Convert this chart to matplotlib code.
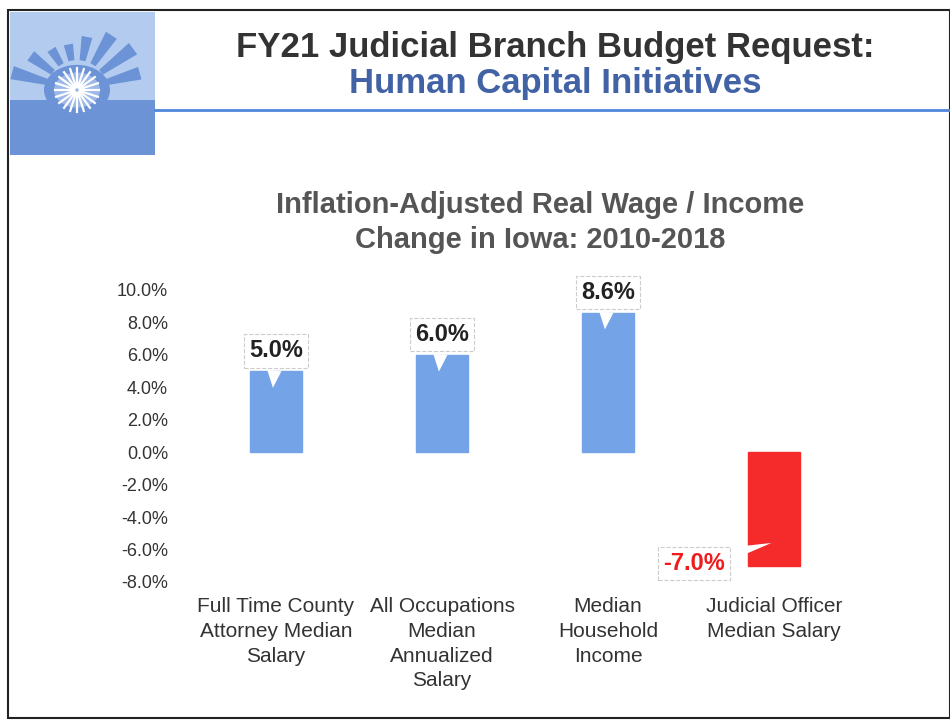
import numpy as np
import matplotlib.pyplot as plt
from matplotlib.patches import Rectangle, Polygon

plt.rcParams["font.family"] = ["Liberation Sans", "DejaVu Sans"]

categories = [
    "Full Time County\nAttorney Median\nSalary",
    "All Occupations\nMedian\nAnnualized\nSalary",
    "Median\nHousehold\nIncome",
    "Judicial Officer\nMedian Salary",
]
changes = [5.0, 6.0, 8.6, -7.0]
yticks = [10, 8, 6, 4, 2, 0, -2, -4, -6, -8]

W, H = 950, 724
fig = plt.figure(figsize=(W / 100, H / 100), dpi=100)


def fx(px):
    return px / W


def fy(py):
    return 1 - py / H


# page frame
fig.add_artist(Rectangle((fx(8), fy(718)), fx(950 - 8), fy(10) - fy(718),
                         transform=fig.transFigure, fill=False, ec="#222222", lw=1.5))

# logo block (rough sketch of the sunburst wheel)
dark = "#6c93d6"
fig.add_artist(Rectangle((fx(10), fy(155)), fx(145), fy(12) - fy(155),
                         transform=fig.transFigure, fc="#b3cbef", ec="none"))
fig.add_artist(Rectangle((fx(10), fy(155)), fx(145), fy(100) - fy(155),
                         transform=fig.transFigure, fc=dark, ec="none"))
cx, cy = 77, 90
for ang in np.linspace(15, 165, 8):
    a = np.deg2rad(ang)
    r0, r1 = 30, 58 + 12 * np.sin(a * 2.5)
    pts = []
    for da in (-0.1, 0.1):
        pts.append((fx(cx + r0 * np.cos(a + da)), fy(cy - r0 * np.sin(a + da))))
    for da in (0.1, -0.1):
        pts.append((fx(cx + r1 * np.cos(a + da)), fy(cy - r1 * np.sin(a + da))))
    fig.add_artist(Polygon(pts, closed=True, transform=fig.transFigure,
                           fc=dark, ec="none"))
fig.add_artist(plt.Circle((fx(cx), fy(cy)), fx(33), transform=fig.transFigure,
                          fc=dark, ec="none"))
fig.add_artist(plt.Circle((fx(cx), fy(cy)), fx(23), transform=fig.transFigure,
                          fc="#9bb8e8", ec="none"))
for ang in np.linspace(0, 360, 20, endpoint=False):
    a = np.deg2rad(ang)
    fig.add_artist(plt.Line2D([fx(cx + 3 * np.cos(a)), fx(cx + 22 * np.cos(a))],
                              [fy(cy - 3 * np.sin(a)), fy(cy - 22 * np.sin(a))],
                              transform=fig.transFigure, color="white", lw=1.6))

# header
fig.text(fx(555), fy(47), "FY21 Judicial Branch Budget Request:", ha="center", va="center",
         fontsize=25, fontweight="bold", color="#333333")
fig.text(fx(555), fy(83), "Human Capital Initiatives", ha="center", va="center",
         fontsize=25, fontweight="bold", color="#4262a6")
fig.add_artist(plt.Line2D([fx(155), fx(950)], [fy(110), fy(110)],
                          transform=fig.transFigure, color="#4f86d9", lw=2))

fig.text(fx(540), fy(205), "Inflation-Adjusted Real Wage / Income", ha="center", va="center",
         fontsize=21, fontweight="bold", color="#555555")
fig.text(fx(540), fy(240), "Change in Iowa: 2010-2018", ha="center", va="center",
         fontsize=21, fontweight="bold", color="#555555")

# chart
ax = fig.add_axes([fx(193), fy(582), fx(664), fy(290) - fy(582)])
x = np.arange(len(categories))
colors = ["#74a3e8" if v >= 0 else "#f52a2a" for v in changes]
ax.bar(x, changes, width=0.31, color=colors, edgecolor=colors)
ax.set_xlim(-0.5, 3.5)
ax.set_ylim(-8, 10)
ax.set_yticks(yticks)
ax.set_yticklabels([f"{v:.1f}%" for v in yticks], fontsize=13, color="#333333")
ax.tick_params(axis="y", length=0, pad=18)
ax.set_xticks([])
for s in ax.spines.values():
    s.set_visible(False)

for i, (lbl, v) in enumerate(zip(categories, changes)):
    ax.annotate(lbl, xy=(i, -8), xytext=(0, -11), textcoords="offset points",
                ha="center", va="top", fontsize=15, color="#333333",
                linespacing=1.38, annotation_clip=False)
    box = dict(boxstyle="square,pad=0.22", fc="white", ec="#cccccc", ls="--", lw=0.8)
    if v >= 0:
        ax.annotate(f"{v:.1f}%", xy=(i - 0.02, v - 1.2), xytext=(i, v + 1.25),
                    ha="center", va="center", fontsize=17, fontweight="bold",
                    color="#222222", bbox=box,
                    arrowprops=dict(arrowstyle="wedge,tail_width=0.6", fc="white",
                                    ec="none"),
                    annotation_clip=False)
    else:
        ax.annotate(f"{v:.1f}%", xy=(i, v + 1.45), xytext=(i - 0.48, v + 0.15),
                    ha="center", va="center", fontsize=17, fontweight="bold",
                    color="#ee1c1c", bbox=box,
                    arrowprops=dict(arrowstyle="wedge,tail_width=0.5", fc="white",
                                    ec="none"),
                    annotation_clip=False)

fig.savefig("out.png", dpi=100)
